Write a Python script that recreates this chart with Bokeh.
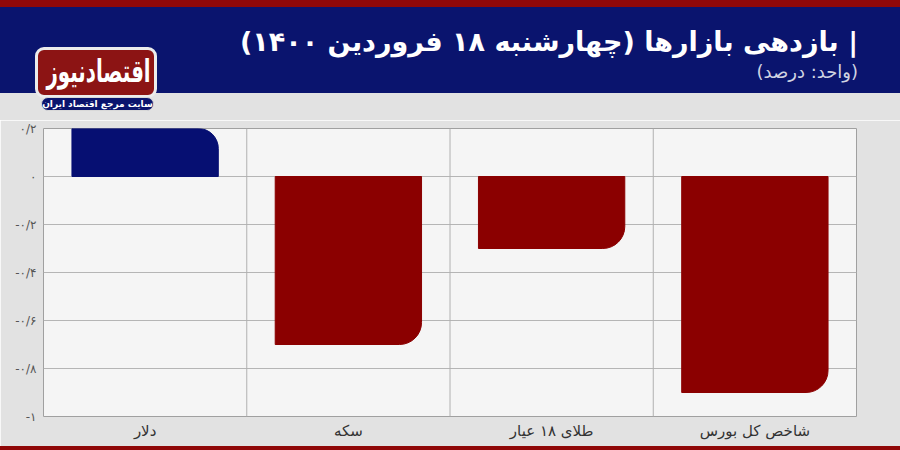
from bokeh.plotting import figure
from bokeh.models import Range1d, FactorRange, FixedTicker, Span, ColumnDataSource, Div
from bokeh.layouts import column
from bokeh.embed import file_html
from bokeh.resources import INLINE

# ---- data ----
categories = ["دلار", "سکه", "طلای ۱۸ عیار", "شاخص کل بورس"]
returns = [0.2, -0.7, -0.3, -0.9]
y_ticks = [0.2, 0, -0.2, -0.4, -0.6, -0.8, -1]
y_tick_labels = ["۰/۲", "۰", "-۰/۲", "-۰/۴", "-۰/۶", "-۰/۸", "-۱"]
title_text = "| بازدهی بازارها (چهارشنبه ۱۸ فروردین ۱۴۰۰)"
subtitle_text = "(واحد: درصد)"
logo_text = "اقتصادنیوز"
logo_sub = "سایت مرجع اقتصاد ایران"

FONT = "DejaVu Sans"
NAVY = "#0a146e"
RED_STRIP = "#900808"
BAR_NAVY = "#060f72"
BAR_RED = "#8b0000"
BG = "#e2e2e2"

W = 900
H1 = 120
H3 = 4
H2 = 450 - H1 - H3

# ---- header (HTML block) ----
header_html = f"""
<div style="position:relative;width:{W}px;height:{H1}px;background:{BG};overflow:hidden;font-family:'{FONT}';">
  <div style="position:absolute;left:0;top:0;width:{W}px;height:7px;background:{RED_STRIP};"></div>
  <div style="position:absolute;left:0;top:7px;width:{W}px;height:86px;background:{NAVY};"></div>
  <div dir="rtl" style="position:absolute;right:42px;top:25px;color:#ffffff;font-size:27px;font-weight:bold;line-height:34px;white-space:nowrap;">{title_text}</div>
  <div dir="rtl" style="position:absolute;right:42px;top:62px;color:#d0d3e2;font-size:18px;line-height:20px;white-space:nowrap;">{subtitle_text}</div>
  <div style="position:absolute;left:35px;top:47px;width:122px;height:51px;box-sizing:border-box;border:3px solid #ececec;border-radius:9px;background:#8c1414;color:#ffffff;text-align:center;white-space:nowrap;">
    <span style="display:inline-block;font-size:23px;font-weight:bold;line-height:42px;transform:scale(0.86,1.35);">{logo_text}</span>
  </div>
  <div style="position:absolute;left:41px;top:97px;width:113px;height:14px;box-sizing:border-box;border:1px solid #d8d8d8;border-radius:7px;background:{NAVY};color:#ffffff;font-size:9px;font-weight:bold;line-height:12px;text-align:center;white-space:nowrap;">{logo_sub}</div>
</div>
"""
header = Div(text=header_html, width=W, height=H1, styles={"margin": "0", "padding": "0"})

# ---- chart ----
p = figure(width=W, height=H2, x_range=FactorRange(*categories), y_range=Range1d(-1, 0.2),
           output_backend="svg", toolbar_location=None,
           min_border_left=43, min_border_right=44, min_border_top=8, min_border_bottom=30)
p.background_fill_color = "#f5f5f5"
p.border_fill_color = BG
p.outline_line_color = "#a0a0a0"

pos = ColumnDataSource(dict(x=[c for c, v in zip(categories, returns) if v >= 0],
                            top=[v for v in returns if v >= 0]))
neg = ColumnDataSource(dict(x=[c for c, v in zip(categories, returns) if v < 0],
                            bottom=[v for v in returns if v < 0]))
p.vbar(x="x", top="top", bottom=0, width=0.72, source=pos, color=BAR_NAVY,
       border_radius=(0, 20, 0, 0))
p.vbar(x="x", top=0, bottom="bottom", width=0.72, source=neg, color=BAR_RED,
       border_radius=(0, 0, 22, 0))

for loc in range(1, len(categories)):
    p.add_layout(Span(location=loc, dimension="height", line_color="#b0b0b0",
                      line_width=1, level="underlay"))

p.xgrid.visible = False
p.ygrid.grid_line_color = "#b5b5b5"
p.yaxis.ticker = FixedTicker(ticks=y_ticks)
p.yaxis.major_label_overrides = {t: l for t, l in zip(y_ticks, y_tick_labels)}
for ax in (p.xaxis[0], p.yaxis[0]):
    ax.axis_line_color = None
    ax.major_tick_line_color = None
    ax.minor_tick_line_color = None
    ax.major_tick_out = 0
    ax.minor_tick_out = 0
    ax.major_label_text_font = FONT
p.yaxis.major_label_text_font_size = "12px"
p.yaxis.major_label_text_color = "#555555"
p.yaxis.major_label_standoff = 7
p.xaxis.major_label_text_font_size = "15px"
p.xaxis.major_label_text_color = "#333333"
p.xaxis.major_label_standoff = 5

footer = Div(text="", width=W, height=H3,
             styles={"margin": "0", "padding": "0", "background-color": RED_STRIP})

layout = column(header, p, footer, spacing=0)
open("out.html", "w").write(file_html(layout, INLINE))
